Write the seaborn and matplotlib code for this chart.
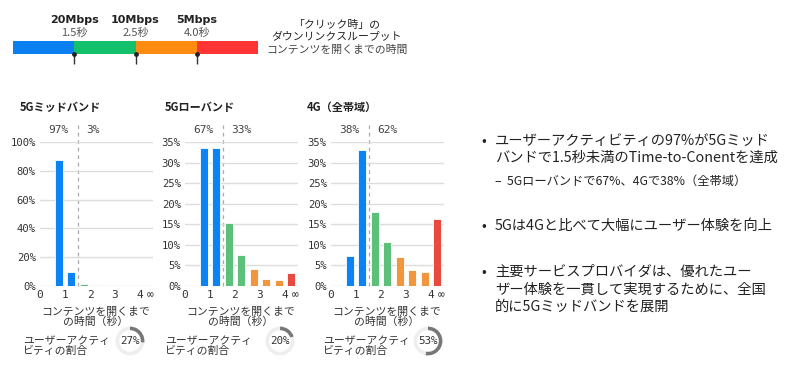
import numpy as np
import pandas as pd
import matplotlib
matplotlib.use('Agg')
import matplotlib.pyplot as plt
import seaborn as sns

sns.set_theme(style='white')
plt.rcParams['font.family'] = ['Noto Sans CJK JP', 'DejaVu Sans']
MONO = ['DejaVu Sans Mono', 'Noto Sans CJK JP']

# time-to-content bins (seconds, bin centre) and colour group of each bin
bin_mid = [0.75, 1.25, 1.75, 2.25, 2.75, 3.25, 3.75, 4.25]
bin_group = ['20M', '20M', '10M', '10M', '5M', '5M', '5M', 'slow']

# share of user activity per bin (%)
panel_titles = ['5Gミッドバンド', '5Gローバンド', '4G（全帯域）']
share_mid5g = [87.4, 9.6, 1.6, 0.6, 0.3, 0.2, 0.1, 0.1]
share_low5g = [33.6, 33.6, 15.2, 7.6, 4.1, 1.8, 1.4, 3.2]
share_4g = [7.2, 33.0, 18.1, 10.8, 7.1, 4.0, 3.3, 16.4]
below_above = [('97%', '3%'), ('67%', '33%'), ('38%', '62%')]
y_max = [100, 35, 35]
y_step = [20, 5, 5]
activity_share = [27, 20, 53]

# top legend bar
speed_labels = ['20Mbps', '10Mbps', '5Mbps']
time_labels = ['1.5秒', '2.5秒', '4.0秒']

bar_palette = {'20M': '#0a84f5', '10M': '#5cc07a', '5M': '#f0963c', 'slow': '#e84a3f'}
legend_colors = ['#0a80f0', '#13c06c', '#ff8c10', '#ff3535']

W, H = 800, 376
fig = plt.figure(figsize=(W / 100, H / 100), dpi=100)


def box(x0, y0, x1, y1):
    # pixel box (top-left origin) -> figure rect
    return [x0 / W, 1 - y1 / H, (x1 - x0) / W, (y1 - y0) / H]


def ftext(x, y, s, **kw):
    fig.text(x / W, 1 - y / H, s, **kw)


# ---- top legend bar ----
lax = fig.add_axes(box(13, 41, 258, 54))
for i, c in enumerate(legend_colors):
    lax.barh(0.5, 1, left=i, height=1, color=c, linewidth=0)
lax.set_xlim(0, 4)
lax.set_ylim(0, 1)
lax.set_xticks([1, 2, 3])
lax.set_xticklabels([])
lax.set_yticks([])
lax.tick_params(axis='x', length=7, width=1, color='#333333', direction='out', bottom=True)
lax.scatter([1, 2, 3], [0, 0, 0], s=6, color='#222222', zorder=5, clip_on=False)
for s in lax.spines.values():
    s.set_visible(False)
for i in range(3):
    xp = 13 + (i + 1) * 245 / 4
    ftext(xp, 20, speed_labels[i], ha='center', va='center', fontsize=8,
          fontweight='bold', color='#222222', family=['DejaVu Sans'])
    ftext(xp, 33, time_labels[i], ha='center', va='center', fontsize=8, color='#555555')
ftext(337, 25, '「クリック時」の', ha='center', va='center', fontsize=7.8, color='#222222')
ftext(337, 36, 'ダウンリンクスループット', ha='center', va='center', fontsize=7.8, color='#222222')
ftext(337, 50, 'コンテンツを開くまでの時間', ha='center', va='center', fontsize=7.8, color='#444444')

# ---- histogram panels ----
shares = [share_mid5g, share_low5g, share_4g]
lefts = [40, 185, 331]
title_x = [20, 165, 307]
label_x = [23, 165, 323]
ring_x = [130, 280, 428]

for k in range(3):
    ax = fig.add_axes(box(lefts[k], 142, lefts[k] + 112.5, 286))
    df = pd.DataFrame({'t': bin_mid, 'share': shares[k], 'grp': bin_group})
    sns.barplot(data=df, x='t', y='share', hue='grp', palette=bar_palette,
                native_scale=True, dodge=False, legend=False, errorbar=None,
                width=0.66, saturation=1, edgecolor='white', linewidth=0.6, ax=ax)
    ax.set_xlim(0, 4.5)
    ax.set_ylim(0, y_max[k])
    yt = np.arange(0, y_max[k] + 1, y_step[k])
    ax.set_yticks(yt)
    ax.set_yticklabels([f'{v}%' for v in yt], family=MONO, fontsize=7.6, color='#333333')
    ax.set_xticks([0, 1, 2, 3, 4, 4.4])
    ax.set_xticklabels(['0', '1', '2', '3', '4', '∞'], family=MONO, fontsize=8, color='#333333')
    ax.tick_params(length=0, pad=3)
    ax.yaxis.grid(True, color='#dddddd', linewidth=1)
    ax.set_axisbelow(True)
    for s in ax.spines.values():
        s.set_visible(False)
    ax.set_xlabel('')
    ax.set_ylabel('')
    ax.axvline(1.5, ymin=0, ymax=1.12, color='#aaaaaa', linewidth=0.9,
               dashes=(3, 3), clip_on=False, zorder=0.5)
    ax.text(1.15, 1.083, below_above[k][0], transform=ax.get_xaxis_transform(),
            ha='right', va='center', family=MONO, fontsize=8, color='#444444')
    ax.text(1.85, 1.083, below_above[k][1], transform=ax.get_xaxis_transform(),
            ha='left', va='center', family=MONO, fontsize=8, color='#444444')

    ftext(title_x[k], 107, panel_titles[k], ha='left', va='center', fontsize=8,
          fontweight='semibold', color='#222222')
    ftext(lefts[k] + 56, 317, 'コンテンツを開くまで\nの時間（秒）', ha='center', va='center',
          fontsize=7.8, color='#333333', linespacing=0.95)
    ftext(label_x[k], 346, 'ユーザーアクティ\nビティの割合', ha='left', va='center',
          fontsize=7.8, color='#333333', linespacing=0.95)

    # activity donut
    rax = fig.add_axes(box(ring_x[k] - 18, 341 - 18, ring_x[k] + 18, 341 + 18))
    rax.pie([activity_share[k], 100 - activity_share[k]], colors=['#777777', '#eeeeee'],
            startangle=90, counterclock=False, wedgeprops=dict(width=0.25, linewidth=0))
    rax.set_aspect('equal')
    rax.text(0, 0, f'{activity_share[k]}%', ha='center', va='center', family=MONO,
             fontsize=7.8, color='#333333')

# ---- bullet text ----
bullets = [
    (140.7, '•', 'ユーザーアクティビティの97%が5Gミッド'),
    (158, '', 'バンドで1.5秒未満のTime-to-Conentを達成'),
    (226, '•', '5Gは4Gと比べて大幅にユーザー体験を向上'),
    (272, '•', '主要サービスプロバイダは、優れたユー'),
    (290, '', 'ザー体験を一貫して実現するために、全国'),
    (307, '', '的に5Gミッドバンドを展開'),
]
for y, b, s in bullets:
    if b:
        ftext(484, y, b, ha='center', va='center', fontsize=10, color='#222222')
    ftext(495, y, s, ha='left', va='center', fontsize=10.3, color='#222222')
ftext(495, 181, '–  5Gローバンドで67%、4Gで38%（全帯域）', ha='left', va='center',
      fontsize=8.8, color='#222222')

fig.savefig('out.png', dpi=100, facecolor='white')
